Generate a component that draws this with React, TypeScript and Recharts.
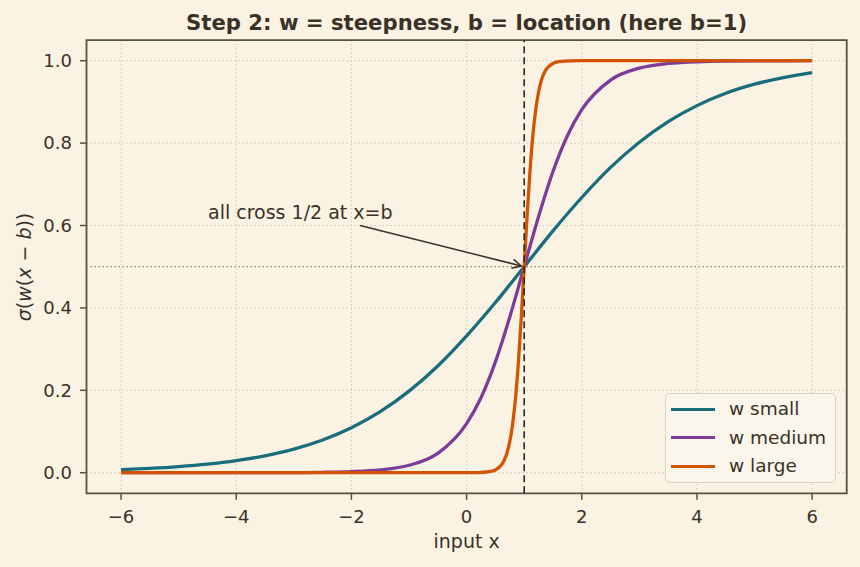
import React from 'react';
import {
  LineChart,
  Line,
  XAxis,
  YAxis,
  CartesianGrid,
  ReferenceLine,
  ReferenceArea,
  ReferenceDot,
  Legend,
} from 'recharts';

// ---------- data ----------
const xTicks = [-6, -4, -2, 0, 2, 4, 6];
const yTicks = [0, 0.2, 0.4, 0.6, 0.8, 1.0];

const seriesNames = ['w small', 'w medium', 'w large'];

const smallX = [-6, -5.5, -5, -4.5, -4, -3.5, -3, -2.5, -2, -1.5, -1, -0.5, 0, 0.5, 1, 1.5, 2, 2.5, 3, 3.5, 4, 4.5, 5, 5.5, 6];
const smallY = [0.0074, 0.0105, 0.0148, 0.0208, 0.0293, 0.0411, 0.0573, 0.0794, 0.1091, 0.148, 0.198, 0.259, 0.332, 0.413, 0.5, 0.587, 0.668, 0.741, 0.802, 0.852, 0.891, 0.921, 0.943, 0.959, 0.971];

const mediumX = [-6, -5, -4, -3, -2.5, -2, -1.5, -1, -0.5, 0, 0.25, 0.5, 0.75, 1, 1.25, 1.5, 1.75, 2, 2.5, 3, 3.5, 4, 5, 6];
const mediumY = [0.0, 0.0, 0.00005, 0.0003, 0.0009, 0.0025, 0.0067, 0.018, 0.047, 0.119, 0.182, 0.269, 0.378, 0.5, 0.622, 0.731, 0.818, 0.881, 0.953, 0.982, 0.9933, 0.9975, 0.9997, 1.0];

const largeX = [-6, -4, -2, 0, 0.2, 0.4, 0.5, 0.6, 0.65, 0.7, 0.75, 0.8, 0.85, 0.9, 0.95, 1.0, 1.05, 1.1, 1.15, 1.2, 1.25, 1.3, 1.35, 1.4, 1.5, 1.6, 1.8, 2, 4, 6];
const largeY = [0, 0, 0, 0.00005, 0.0003, 0.0025, 0.0067, 0.018, 0.0293, 0.047, 0.0759, 0.119, 0.182, 0.269, 0.378, 0.5, 0.622, 0.731, 0.818, 0.881, 0.924, 0.953, 0.971, 0.982, 0.9933, 0.9975, 0.9997, 1.0, 1.0, 1.0];

const bLocation = 1;
const halfValue = 0.5;
const annotationText = 'all cross 1/2 at x=b';
const annotationTextPos = { x: -4.49, y: 0.616 };
const annotationTail = { x: -1.85, y: 0.6 };

const xDomain = [-6.6, 6.6];
const yDomain = [-0.05, 1.05];

// ---------- styles ----------
const BG = '#faf3e3';
const SPINE = '#5a4f41';
const TEXT = '#3a3128';
const GRID = '#cbc2b1';
const COLORS = ['#1a6e7b', '#7d3c98', '#d35400'];
const FONT = '"DejaVu Sans", sans-serif';

const zip = (xs: number[], ys: number[]) => xs.map((x, i) => ({ x, y: ys[i] }));
const seriesData = [zip(smallX, smallY), zip(mediumX, mediumY), zip(largeX, largeY)];

const fmtX = (v: number) => (v < 0 ? '\u2212' + Math.abs(v) : String(v));
const fmtY = (v: number) => v.toFixed(1);

const Arrow = (props: any) => {
  const { x1, y1, x2, y2 } = props;
  const dx = x2 - x1;
  const dy = y2 - y1;
  const len = Math.hypot(dx, dy) || 1;
  const ux = dx / len;
  const uy = dy / len;
  const ex = x2 - ux * 3;
  const ey = y2 - uy * 3;
  const hl = 9;
  const hw = 4.5;
  const bx = ex - ux * hl;
  const by = ey - uy * hl;
  const px = -uy;
  const py = ux;
  return (
    <g>
      <line x1={x1} y1={y1} x2={ex} y2={ey} stroke={TEXT} strokeWidth={1.5} />
      <polyline
        points={`${bx + px * hw},${by + py * hw} ${ex},${ey} ${bx - px * hw},${by - py * hw}`}
        fill="none"
        stroke={TEXT}
        strokeWidth={1.5}
      />
    </g>
  );
};

const AnnotationText = (props: any) => (
  <text x={props.cx} y={props.cy} fill={TEXT} fontSize={19} fontFamily={FONT} textAnchor="start">
    {annotationText}
  </text>
);

const LegendBox = (props: any) => {
  const payload = [...(props.payload || [])].sort(
    (a: any, b: any) => seriesNames.indexOf(a.value) - seriesNames.indexOf(b.value)
  );
  return (
    <div
      style={{
        position: 'relative',
        width: 171,
        height: 90,
        boxSizing: 'border-box',
        border: '1.2px solid #d9d1c1',
        borderRadius: 5,
        background: '#fbf6eb',
        fontFamily: FONT,
      }}
    >
      {payload.map((e: any, i: number) => (
        <div key={i} style={{ position: 'absolute', left: 0, top: 15 + i * 28.5 - 12, height: 24, width: 171 }}>
          <div style={{ position: 'absolute', left: 5, top: 10.5, width: 44, height: 3.2, background: e.color }} />
          <div
            style={{
              position: 'absolute',
              left: 63,
              top: 0,
              lineHeight: '24px',
              fontSize: 18.5,
              color: TEXT,
              whiteSpace: 'nowrap',
            }}
          >
            {e.value}
          </div>
        </div>
      ))}
    </div>
  );
};

export default function App() {
  return (
    <div
      style={{
        position: 'absolute',
        left: 0,
        top: 0,
        width: 860,
        height: 567,
        background: BG,
        fontFamily: FONT,
      }}
    >
      <LineChart
        width={860}
        height={567}
        margin={{ top: 40.1, right: 13.3, bottom: 0, left: 0 }}
        style={{ background: BG }}
      >
        <CartesianGrid stroke={GRID} strokeDasharray="1.5 2.5" strokeWidth={0.9} />
        <XAxis
          type="number"
          dataKey="x"
          domain={xDomain}
          ticks={xTicks}
          allowDataOverflow
          height={73.7}
          axisLine={false}
          tickSize={6.5}
          tickMargin={10.5}
          tickLine={{ stroke: SPINE, strokeWidth: 1.5 }}
          tick={{ fontSize: 18, fill: TEXT, fontFamily: FONT }}
          tickFormatter={fmtX}
          interval={0}
        />
        <YAxis
          type="number"
          dataKey="y"
          domain={yDomain}
          ticks={yTicks}
          allowDataOverflow
          width={86.5}
          axisLine={false}
          tickSize={6.5}
          tickMargin={8}
          tickLine={{ stroke: SPINE, strokeWidth: 1.5 }}
          tick={{ fontSize: 18, fill: TEXT, fontFamily: FONT }}
          tickFormatter={fmtY}
          interval={0}
        />
        <ReferenceLine y={halfValue} stroke="#8a8171" strokeWidth={1.2} strokeDasharray="1.5 2.5" />
        {seriesData.map((d, i) => (
          <Line
            key={seriesNames[i]}
            data={d}
            dataKey="y"
            name={seriesNames[i]}
            type="monotone"
            stroke={COLORS[i]}
            strokeWidth={3.3}
            dot={false}
            activeDot={false}
            isAnimationActive={false}
          />
        ))}
        <ReferenceLine x={bLocation} stroke="#2d2822" strokeWidth={1.6} strokeDasharray="7 4" />
        <ReferenceLine segment={[annotationTail, { x: bLocation, y: halfValue }]} shape={Arrow} />
        <ReferenceDot x={annotationTextPos.x} y={annotationTextPos.y} r={0} shape={AnnotationText} />
        <ReferenceArea
          x1={xDomain[0]}
          x2={xDomain[1]}
          y1={yDomain[0]}
          y2={yDomain[1]}
          fill="none"
          fillOpacity={0}
          stroke={SPINE}
          strokeWidth={1.8}
        />
        <Legend
          layout="horizontal"
          verticalAlign="middle"
          align="center"
          wrapperStyle={{ left: 665, top: 393, width: 171, height: 90 }}
          content={LegendBox}
        />
      </LineChart>
      <svg
        width={860}
        height={567}
        style={{ position: 'absolute', left: 0, top: 0, pointerEvents: 'none' }}
      >
        <text x={466.6} y={29.5} textAnchor="middle" fontSize={21.2} fontWeight="bold" fill={TEXT} fontFamily={FONT}>
          Step 2: w = steepness, b = location (here b=1)
        </text>
        <text x={466.6} y={548} textAnchor="middle" fontSize={19} fill={TEXT} fontFamily={FONT}>
          input x
        </text>
        <text
          transform="translate(31,267) rotate(-90)"
          x={0}
          y={0}
          textAnchor="middle"
          fontSize={19}
          fill={TEXT}
          fontFamily={FONT}
        >
          <tspan fontStyle="italic">σ</tspan>
          <tspan>(</tspan>
          <tspan fontStyle="italic">w</tspan>
          <tspan>(</tspan>
          <tspan fontStyle="italic">x</tspan>
          <tspan> − </tspan>
          <tspan fontStyle="italic">b</tspan>
          <tspan>))</tspan>
        </text>
      </svg>
    </div>
  );
}
